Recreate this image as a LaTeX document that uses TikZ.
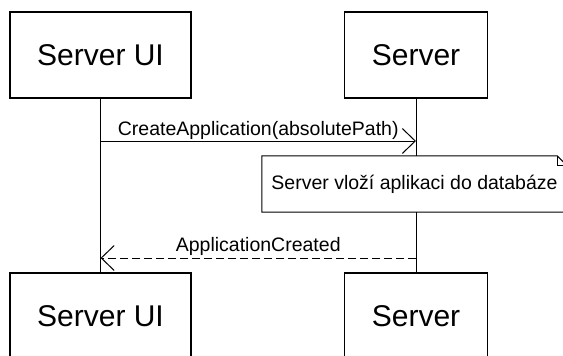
\documentclass[tikz,border=0pt]{standalone}
\usepackage{fontspec}
\setmainfont{Liberation Sans}
\usetikzlibrary{arrows.meta,calc}

\tikzset{
  actor/.style={draw=black, line width=1.1pt, fill=white, inner sep=0pt,
    minimum height=86pt, font=\fontsize{30}{36}\selectfont},
  lifeline/.style={draw=black, line width=1pt},
  msg/.style={draw=black, line width=1pt, -{Straight Barb[length=13pt,width=25pt,line width=1pt]}},
  reply/.style={msg, dash pattern=on 8pt off 4pt},
  msglabel/.style={font=\fontsize{19.5}{23}\selectfont, anchor=base, inner sep=0pt},
  notebox/.style={fill=white, inner sep=0pt, minimum width=305pt, minimum height=56pt,
    font=\fontsize{19.5}{23}\selectfont},
}

\begin{document}
\begin{tikzpicture}[x=1pt, y=-1pt]
  \useasboundingbox (0,0) rectangle (563,356);
  \fill[white] (0,0) rectangle (563,356);
  \clip (0,0) rectangle (563,356);

  % participants, head and foot
  \node[actor, minimum width=181pt] (uiTop)  at (100.5,55)  {Server UI};
  \node[actor, minimum width=143pt] (srvTop) at (416,55)    {Server};
  \node[actor, minimum width=181pt] (uiBot)  at (100.5,316) {Server UI};
  \node[actor, minimum width=143pt] (srvBot) at (416,316)   {Server};

  % lifelines
  \draw[lifeline] (uiTop.south) -- (uiBot.north);
  \draw[lifeline] (srvTop.south) -- (srvBot.north);

  % message endpoints on the lifelines
  \coordinate (m1a) at (uiTop.south |- 0,141);
  \coordinate (m1b) at (srvTop.south |- 0,141);
  \coordinate (m2a) at (srvTop.south |- 0,258);
  \coordinate (m2b) at (uiTop.south |- 0,258);

  \draw[msg] (m1a) -- (m1b);
  \node[msglabel] (l1) at ($ (m1a)!0.5!(m1b) + (0,-6) $) {CreateApplication(absolutePath)};

  \draw[reply] (m2a) -- (m2b);
  \node[msglabel] (l2) at ($ (m2a)!0.5!(m2b) + (0,-6.5) $) {ApplicationCreated};

  % note with folded corner
  \node[notebox] (note) at (414.5,184) {Server vloží aplikaci do databáze};
  \draw[black, line width=1pt]
    (note.north west) -- ([xshift=-10pt]note.north east)
    -- ([yshift=-10pt]note.north east) -- (note.south east)
    -- (note.south west) -- cycle;
  \draw[black, line width=1pt]
    ([xshift=-10pt]note.north east) -- ([xshift=-10pt,yshift=-10pt]note.north east)
    -- ([yshift=-10pt]note.north east);
\end{tikzpicture}
\end{document}
